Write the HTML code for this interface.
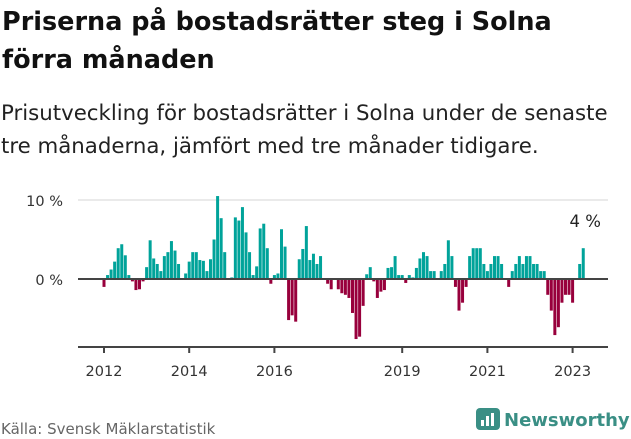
<!DOCTYPE html>
<html><head><meta charset="utf-8"><style>
body{margin:0;background:#fff;font-family:"DejaVu Sans","Liberation Sans",sans-serif;}
#wrap{position:relative;width:631px;height:439px;overflow:hidden;}
h1{position:absolute;left:2px;top:3px;margin:0;font-size:25.5px;line-height:38px;font-weight:bold;color:#111;white-space:nowrap;}
p.sub{position:absolute;left:1px;top:97px;margin:0;font-size:21.3px;line-height:33px;color:#222;white-space:nowrap;}
.src{position:absolute;left:1px;top:420px;font-size:15px;color:#666;}
.logo{position:absolute;left:476px;top:408px;display:flex;align-items:center;}
.logo span{font-size:18px;font-weight:bold;color:#3a8f85;margin-left:4px;}
</style></head><body>
<div id="wrap">
<h1>Priserna på bostadsrätter steg i Solna<br>förra månaden</h1>
<p class="sub">Prisutveckling för bostadsrätter i Solna under de senaste<br>tre månaderna, jämfört med tre månader tidigare.</p>
<svg id="chart" width="631" height="439" style="position:absolute;left:0;top:0"></svg>
<div class="src">Källa: Svensk Mäklarstatistik</div>
<div class="logo">
<svg width="24" height="24"><rect x="0" y="0" width="24" height="22" rx="4" fill="#3a8f85"/><rect x="5" y="12" width="3" height="6" fill="#fff"/><rect x="10" y="8" width="3" height="10" fill="#fff"/><rect x="15" y="5" width="3" height="13" fill="#fff"/></svg><span>Newsworthy</span></div>
</div>
<script>
const startYear = 2012;
const values = [
-1.0,0.5,1.2,2.2,3.9,4.4,3.0,0.5,-0.3,-1.4,-1.3,-0.3,
1.5,4.9,2.6,1.9,1.0,2.9,3.4,4.8,3.6,1.9,0,0.7,
2.2,3.4,3.4,2.4,2.3,1.0,2.5,5.0,10.5,7.7,3.4,0,
0.2,7.8,7.4,9.1,5.9,3.4,0.5,1.6,6.4,7.0,3.9,-0.6,
0.5,0.7,6.3,4.1,-5.2,-4.6,-5.4,2.5,3.8,6.7,2.4,3.2,
1.9,2.9,0,-0.6,-1.3,0,-1.3,-1.8,-2.0,-2.4,-4.3,-7.6,
-7.3,-3.4,0.6,1.5,-0.3,-2.4,-1.6,-1.4,1.4,1.5,2.9,0.5,
0.5,-0.5,0.5,0.2,1.4,2.6,3.4,2.9,1.0,1.0,0,1.0,
1.9,4.9,2.9,-1.0,-4.0,-3.0,-1.0,2.9,3.9,3.9,3.9,1.9,
1.0,1.9,2.9,2.9,1.9,0,-1.0,1.0,1.9,2.9,1.9,2.9,
2.9,1.9,1.9,1.0,1.0,-2.0,-4.0,-7.1,-6.1,-3.0,-2.0,-2.0,
-3.0,0,1.9,3.9];
const yTicks = [0,10];
const yTickLabels = ["0 %","10 %"];
const xTickYears = [2012,2014,2016,2019,2021,2023];
const annotationLabel = "4 %";

const svg = document.getElementById('chart');
const NS = "http://www.w3.org/2000/svg";
const FF = 'DejaVu Sans, Liberation Sans, sans-serif';
function xm(i){return 104 + i*42.6/12;}
function yv(v){return 279 - v*7.9;}
function mk(t,a){const e=document.createElementNS(NS,t);for(const k in a)e.setAttribute(k,a[k]);svg.appendChild(e);return e;}
yTicks.forEach((t,i)=>{
  if(t!==0){const g=mk('line',{x1:78,x2:608,y1:yv(t),y2:yv(t),stroke:'#e4e4e4','stroke-width':1.5});
  
  }
  const l=mk('text',{x:63,y:yv(t)+6,'text-anchor':'end','font-size':14.5,fill:'#333','font-family':FF});
  l.textContent=yTickLabels[i];
  
  
});
values.forEach((v,i)=>{
  if(v===0)return;
  const y0=yv(0),y1=yv(v);
  const r=mk('rect',{x:xm(i)-1.5,y:Math.min(y0,y1),width:3,height:Math.abs(y1-y0),fill:v>0?'#00a39a':'#98003c'});
  
  
});
const z=mk('line',{x1:78,x2:608,y1:yv(0),y2:yv(0),stroke:'#444','stroke-width':2});


const ax=mk('line',{x1:78,x2:608,y1:347,y2:347,stroke:'#444','stroke-width':2});


xTickYears.forEach(yr=>{
  const x=xm((yr-startYear)*12);
  const t=mk('line',{x1:x,x2:x,y1:347,y2:353,stroke:'#444','stroke-width':2});
  
  
  const l=mk('text',{x:x,y:376,'text-anchor':'middle','font-size':14.5,fill:'#333','font-family':FF});
  l.textContent=yr;
  
  
});
const last=values.length-1;
const a=mk('text',{x:xm(last)+2,y:yv(values[last])-21,'text-anchor':'middle','font-size':16.5,fill:'#222','font-family':FF});
a.textContent=annotationLabel;


</script>
</body></html>
